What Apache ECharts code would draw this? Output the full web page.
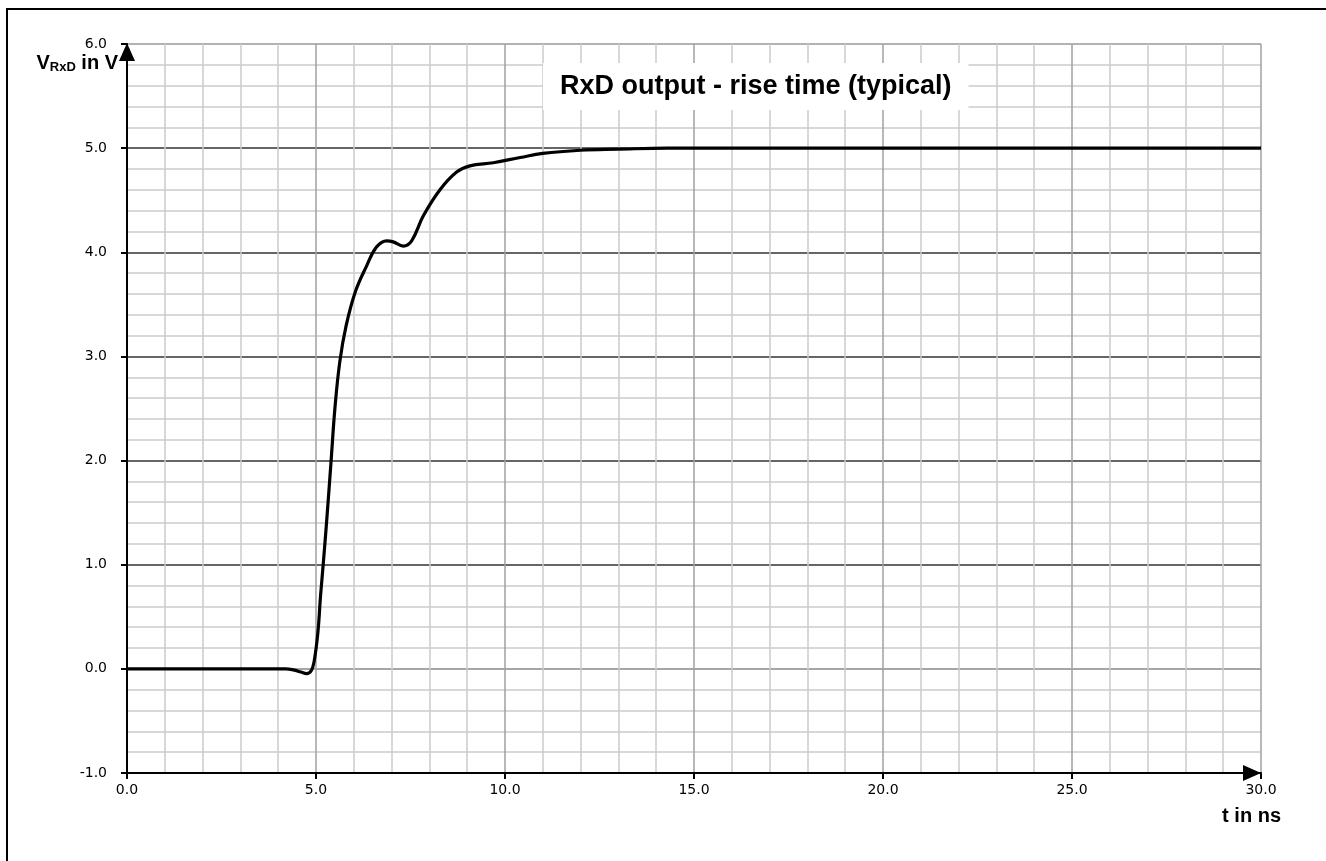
<!DOCTYPE html>
<html>
<head>
<meta charset="utf-8">
<script src="https://cdn.jsdelivr.net/npm/echarts@6/dist/echarts.min.js"></script>
<style>
  html, body { margin: 0; padding: 0; background: #fff; }
</style>
</head>
<body>
<div id="chart" style="width: 1326px;height: 861px;"></div>
<script>
  // time axis in ns
  var tNs = [0, 4.2, 4.4, 4.6, 4.75, 4.87, 4.95, 5.05, 5.12, 5.19, 5.28, 5.4, 5.5, 5.63, 5.8,
    6.05, 6.34, 6.6, 6.87, 7.04, 7.31, 7.53, 7.84, 8.28, 8.72, 9.07, 9.69, 10.4, 11, 12, 13, 14.3, 30]
  // RxD voltage in V
  var vRxd = [0, 0, -0.01, -0.03, -0.045, -0.02, 0.07, 0.35, 0.7, 1.0, 1.41, 2.0, 2.5, 2.95, 3.3,
    3.63, 3.87, 4.05, 4.11, 4.10, 4.06, 4.11, 4.35, 4.60, 4.77, 4.83, 4.86, 4.91, 4.95, 4.98, 4.99, 5.0, 5.0]

  var titleText = 'RxD output - rise time (typical)'

  var points = tNs.map(function (t, i) { return [t, vRxd[i]] })

  var myChart = echarts.init(document.getElementById('chart'))
  myChart.setOption({
    animation: false,
    backgroundColor: '#fff',
    title: {
      text: titleText,
      left: 543,
      top: 64,
      padding: [10, 17],
      backgroundColor: '#fff',
      textStyle: { fontFamily: 'Liberation Sans', fontWeight: 'bold', fontSize: 27, color: '#000', lineHeight: 25 }
    },
    graphic: [{
      type: 'rect',
      shape: { x: 7, y: 9, width: 1500, height: 1000 },
      style: { fill: 'none', stroke: '#000', lineWidth: 2 },
      silent: true
    }],
    grid: { left: 127, right: 65, top: 44, bottom: 88 },
    xAxis: {
      type: 'value',
      min: 0, max: 30, interval: 5,
      name: 't in ns',
      nameLocation: 'end',
      nameGap: 20,
      nameTextStyle: {
        fontFamily: 'Liberation Sans', fontWeight: 'bold', fontSize: 20, color: '#000',
        align: 'right', verticalAlign: 'top', padding: [33, 0, 0, 0]
      },
      axisLine: { onZero: false, lineStyle: { color: '#000', width: 2 }, symbol: ['none', 'triangle'], symbolSize: [16, 18], symbolOffset: [0, -9] },
      axisTick: { show: true, length: 6, lineStyle: { color: '#000', width: 2 } },
      axisLabel: { margin: 10, fontFamily: 'DejaVu Sans', fontSize: 14, color: '#000', formatter: function (v) { return v.toFixed(1) } },
      splitLine: { show: true, lineStyle: { color: '#a0a0a0', width: 1.5 } },
      minorTick: { show: false, splitNumber: 5 },
      minorSplitLine: { show: true, lineStyle: { color: '#cccccc', width: 1.5 } }
    },
    yAxis: {
      type: 'value',
      min: -1, max: 6, interval: 1,
      name: '{a|V}{b|RxD}{a| in V}',
      nameLocation: 'end',
      nameGap: -19,
      nameTextStyle: {
        align: 'right', verticalAlign: 'middle', padding: [0, 9, 0, 0],
        rich: {
          a: { fontFamily: 'Liberation Sans', fontWeight: 'bold', fontSize: 20, color: '#000' },
          b: { fontFamily: 'Liberation Sans', fontWeight: 'bold', fontSize: 13, color: '#000', verticalAlign: 'bottom', padding: [8, 0, 0, 0] }
        }
      },
      axisLine: { show: true, onZero: false, lineStyle: { color: '#000', width: 2 }, symbol: ['none', 'triangle'], symbolSize: [16, 18], symbolOffset: [0, -8] },
      axisTick: { show: true, length: 6, lineStyle: { color: '#000', width: 2 } },
      axisLabel: { margin: 20, fontFamily: 'DejaVu Sans', fontSize: 14, color: '#000', formatter: function (v) { return v.toFixed(1) } },
      splitLine: { show: true, lineStyle: { color: ['#888', '#888', '#333', '#333', '#333', '#333', '#333', '#999'], width: 1.5 } },
      minorTick: { show: false, splitNumber: 5 },
      minorSplitLine: { show: true, lineStyle: { color: '#cccccc', width: 1.5 } }
    },
    series: [{
      type: 'line',
      data: points,
      showSymbol: false,
      smooth: 0.4,
      lineStyle: { color: '#000', width: 3.2 },
      z: 3
    }]
  })
</script>
</body>
</html>
